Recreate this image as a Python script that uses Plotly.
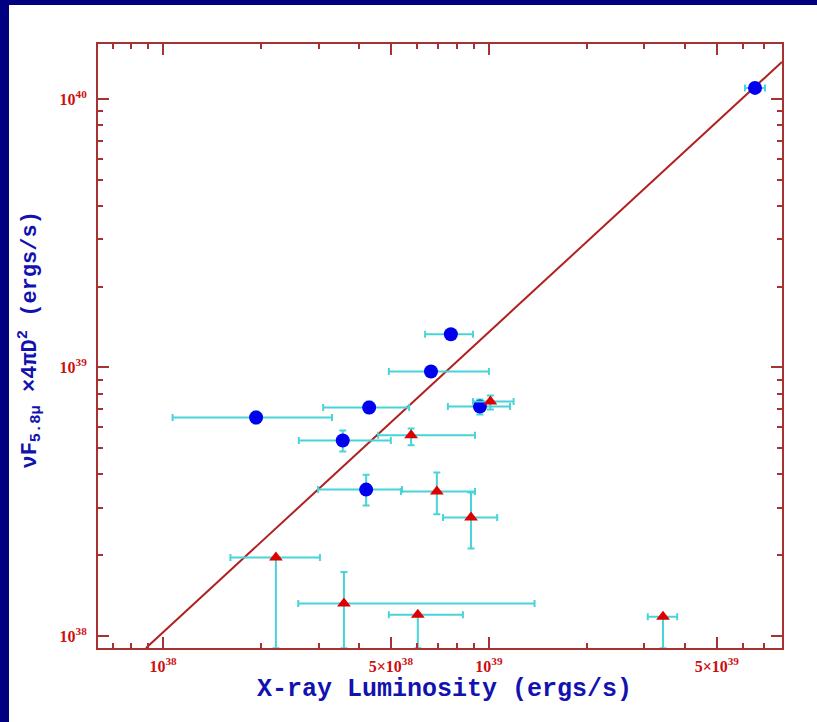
import plotly.graph_objects as go

# X-ray luminosity vs. 5.8 micron luminosity (ergs/s)
# Blue circles
blue_lum = [7.64e38, 6.64e38, 4.29e38, 1.93e38, 9.38e38, 3.56e38, 4.20e38, 6.55e39]
blue_lum_lo = [6.37e38, 4.93e38, 3.10e38, 1.07e38, 7.48e38, 2.61e38, 2.99e38, 6.10e39]
blue_lum_hi = [8.93e38, 1.00e39, 5.69e38, 3.30e38, 1.16e39, 5.00e38, 5.41e38, 7.03e39]
blue_ir = [1.33e39, 9.66e38, 7.10e38, 6.51e38, 7.16e38, 5.35e38, 3.51e38, 1.10e40]
blue_ir_lo = [1.28e39, 9.34e38, 6.75e38, 6.18e38, 6.68e38, 4.87e38, 3.06e38, 1.07e40]
blue_ir_hi = [1.37e39, 1.00e39, 7.47e38, 6.86e38, 7.60e38, 5.82e38, 3.99e38, 1.13e40]

# Red triangles (last four reach down to the bottom of the axis)
red_lum = [1.01e39, 5.77e38, 6.92e38, 8.81e38, 2.22e38, 3.59e38, 6.05e38, 3.42e39]
red_lum_lo = [8.93e38, 4.57e38, 5.37e38, 7.23e38, 1.61e38, 2.60e38, 4.93e38, 3.07e39]
red_lum_hi = [1.19e39, 9.06e38, 9.06e38, 1.06e39, 3.03e38, 1.38e39, 8.32e38, 3.78e39]
red_ir = [7.47e38, 5.59e38, 3.45e38, 2.76e38, 1.96e38, 1.32e38, 1.20e38, 1.18e38]
red_ir_lo = [6.98e38, 5.13e38, 2.84e38, 2.12e38, 9.0e37, 9.0e37, 9.0e37, 9.0e37]
red_ir_hi = [7.87e38, 5.93e38, 4.06e38, 3.42e38, 1.96e38, 1.73e38, 1.20e38, 1.18e38]

# Fitted relation endpoints
fit_lum = [8.87e37, 7.92e39]
fit_ir = [9.02e37, 1.374e40]

# Axis ticks
x_major = [1e38, 5e38, 1e39, 5e39]
x_major_text = ["10<sup>38</sup>", "5×10<sup>38</sup>", "10<sup>39</sup>", "5×10<sup>39</sup>"]
x_minor = [7e37, 8e37, 9e37, 2e38, 3e38, 4e38, 6e38, 7e38, 8e38, 9e38,
           2e39, 3e39, 4e39, 6e39, 7e39]
y_major = [1e38, 1e39, 1e40]
y_major_text = ["10<sup>38</sup>", "10<sup>39</sup>", "10<sup>40</sup>"]
y_minor = [2e38, 3e38, 4e38, 5e38, 6e38, 7e38, 8e38, 9e38,
           2e39, 3e39, 4e39, 5e39, 6e39, 7e39, 8e39, 9e39]

NAVY = "#000080"
AXIS = "#a83232"
LABEL = "#cc1010"
TITLE = "#1212b0"
ERR = "#48d4d8"


def spread(center, lo, hi):
    plus = [h - c for c, h in zip(center, hi)]
    minus = [c - l for c, l in zip(center, lo)]
    return plus, minus


fig = go.Figure()

fig.add_trace(go.Scatter(
    x=fit_lum, y=fit_ir, mode="lines",
    line=dict(color="#b02020", width=2), hoverinfo="skip",
))

bx_p, bx_m = spread(blue_lum, blue_lum_lo, blue_lum_hi)
by_p, by_m = spread(blue_ir, blue_ir_lo, blue_ir_hi)
fig.add_trace(go.Scatter(
    x=blue_lum, y=blue_ir, mode="markers",
    marker=dict(symbol="circle", size=14, color="#0000ee"),
    error_x=dict(type="data", symmetric=False, array=bx_p, arrayminus=bx_m,
                 color=ERR, thickness=2, width=3.5),
    error_y=dict(type="data", symmetric=False, array=by_p, arrayminus=by_m,
                 color=ERR, thickness=2, width=3.5),
))

rx_p, rx_m = spread(red_lum, red_lum_lo, red_lum_hi)
ry_p, ry_m = spread(red_ir, red_ir_lo, red_ir_hi)
fig.add_trace(go.Scatter(
    x=red_lum, y=red_ir, mode="markers",
    marker=dict(symbol="triangle-up", size=12, color="#dd0000"),
    error_x=dict(type="data", symmetric=False, array=rx_p, arrayminus=rx_m,
                 color=ERR, thickness=2, width=3.5),
    error_y=dict(type="data", symmetric=False, array=ry_p, arrayminus=ry_m,
                 color=ERR, thickness=2, width=3.5),
))

tick_font = dict(family="Liberation Serif", size=16, color=LABEL, weight="bold")

fig.update_xaxes(
    type="log", range=[37.8006, 39.899],
    showgrid=False, zeroline=False,
    showline=True, linecolor=AXIS, linewidth=2, mirror="allticks",
    ticks="inside", ticklen=11, tickwidth=1.5, tickcolor=AXIS,
    tickmode="array", tickvals=x_major, ticktext=x_major_text,
    tickfont=tick_font, ticklabelstandoff=3,
    minor=dict(tickmode="array", tickvals=x_minor, ticks="inside",
               ticklen=5, tickwidth=1.5, tickcolor=AXIS, showgrid=False),
)
fig.update_yaxes(
    type="log", range=[37.9553, 40.2048],
    showgrid=False, zeroline=False,
    showline=True, linecolor=AXIS, linewidth=2, mirror="allticks",
    ticks="inside", ticklen=11, tickwidth=1.5, tickcolor=AXIS,
    tickmode="array", tickvals=y_major, ticktext=y_major_text,
    tickfont=tick_font, ticklabelstandoff=6,
    minor=dict(tickmode="array", tickvals=y_minor, ticks="inside",
               ticklen=5, tickwidth=1.5, tickcolor=AXIS, showgrid=False),
)

title_font = dict(family="Liberation Mono", size=25, color=TITLE, weight="bold")

fig.update_layout(
    width=817, height=722,
    margin=dict(l=98, r=35, t=44, b=74),
    paper_bgcolor=NAVY, plot_bgcolor="white",
    showlegend=False,
    shapes=[dict(type="rect", xref="paper", yref="paper",
                 x0=-0.1301, x1=1.06, y0=-0.13, y1=1.0646,
                 fillcolor="white", line=dict(width=0), layer="below")],
    annotations=[
        dict(text="X-ray Luminosity (ergs/s)", xref="paper", yref="paper",
             x=0.5073, y=-0.0695, xanchor="center", yanchor="middle",
             showarrow=False, font=title_font),
        dict(text="νF<sub>5.8μ</sub> ×4πD<sup>2</sup> (ergs/s)",
             xref="paper", yref="paper", x=-0.1, y=0.51,
             xanchor="center", yanchor="middle", textangle=-90,
             showarrow=False,
             font=dict(family="Liberation Mono", size=22, color=TITLE, weight="bold")),
    ],
)

fig.write_html("out.html")
